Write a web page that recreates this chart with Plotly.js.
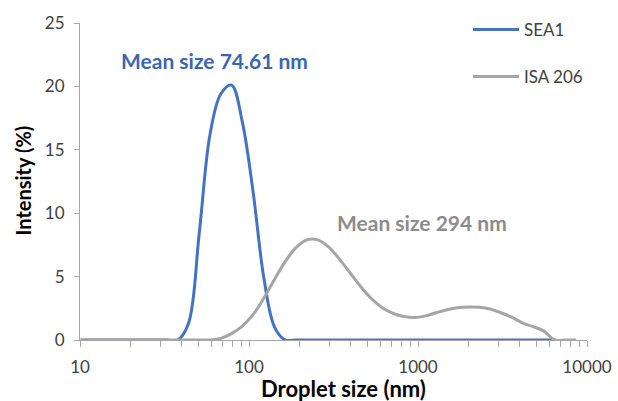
<!DOCTYPE html>
<html>
<head>
<meta charset="utf-8">
<script src="https://cdn.plot.ly/plotly-3.0.1.min.js"></script>
<style>
html,body{margin:0;padding:0;background:#fff;}
#chart{width:618px;height:401px;}
</style>
</head>
<body>
<div id="chart"></div>
<script>
// Droplet size bins (nm)
const sizesSEA1 = [10.1, 11.7, 13.54, 15.69, 18.17, 21.04, 24.36, 28.21, 32.67, 37.84,
  43.82, 50.75, 58.77, 68.06, 78.82, 91.28, 105.7, 122.4, 141.8, 164.2,
  190.1, 220.2, 255.0, 295.3, 342.0, 396.1, 458.7, 531.2, 615.1, 712.4,
  825.0, 955.4, 1106, 1281, 1484, 1718, 1990, 2305, 2669, 3091,
  3580, 4145, 4801, 5560, 6439];
const intensitySEA1 = [0, 0, 0, 0, 0, 0, 0, 0, 0, 0,
  1.3, 8.4, 16.2, 19.4, 20.1, 17.2, 11.7, 4.9, 1.0, 0,
  0, 0, 0, 0, 0, 0, 0, 0, 0, 0,
  0, 0, 0, 0, 0, 0, 0, 0, 0, 0,
  0, 0, 0, 0, 0];

const sizesISA = [10.1, 11.7, 13.54, 15.69, 18.17, 21.04, 24.36, 28.21, 32.67, 37.84,
  43.82, 50.75, 58.77, 68.06, 78.82, 91.28, 105.7, 122.4, 141.8, 164.2,
  190.1, 220.2, 255.0, 295.3, 342.0, 396.1, 458.7, 531.2, 615.1, 712.4,
  825.0, 955.4, 1106, 1281, 1484, 1718, 1990, 2305, 2669, 3091,
  3580, 4145, 4801, 5560, 6439, 7456, 8635];
const intensityISA = [0, 0, 0, 0, 0, 0, 0, 0, 0, 0,
  0, 0, 0, 0.13, 0.5, 1.1, 2.0, 3.3, 4.8, 6.2,
  7.3, 7.9, 7.9, 7.35, 6.4, 5.3, 4.2, 3.25, 2.55, 2.1,
  1.85, 1.77, 1.9, 2.15, 2.38, 2.55, 2.6, 2.58, 2.45, 2.15,
  1.8, 1.35, 1.05, 0.7, 0, 0, 0];

const seriesNames = ['SEA1', 'ISA 206'];
const decadeTicks = [10, 100, 1000, 10000];
const decadeLabels = ['10', '100', '1000', '10000'];
const annotationTexts = ['Mean size 74.61 nm', 'Mean size 294 nm'];
const xTitle = 'Droplet size (nm)';
const yTitle = 'Intensity (%)';

// tick positions: each decade plus its 2..9 multiples (labels only on decades)
const xTickVals = [];
const xTickText = [];
decadeTicks.forEach(function (d, i) {
  xTickVals.push(d); xTickText.push(decadeLabels[i]);
  if (i < decadeTicks.length - 1) {
    for (let m = 2; m <= 9; m++) { xTickVals.push(d * m); xTickText.push(''); }
  }
});

const FONT = 'Lato, "Open Sans", sans-serif';

const traces = [
  {x: sizesSEA1, y: intensitySEA1, name: seriesNames[0], type: 'scatter', mode: 'lines',
   line: {color: '#4472C4', width: 3, shape: 'spline', smoothing: 1}, legendgroup: 'a'},
  {x: sizesISA, y: intensityISA, name: seriesNames[1], type: 'scatter', mode: 'lines',
   line: {color: '#A5A5A5', width: 3, shape: 'spline', smoothing: 1}, legendgroup: 'b'}
];

function px(x) { return (x - 80) / 507; }
function py(y) { return (340 - y) / 320; }

const layout = {
  width: 618, height: 401,
  margin: {l: 80, r: 31, t: 20, b: 61},
  paper_bgcolor: '#fff', plot_bgcolor: '#fff',
  font: {family: FONT, color: '#404040', size: 16},
  showlegend: true,
  legend: {x: px(468), xref: 'paper', y: 1.035, yanchor: 'top',
           font: {family: FONT, size: 17, color: '#404040'},
           tracegroupgap: 22, itemwidth: 46, bgcolor: 'rgba(0,0,0,0)'},
  xaxis: {
    type: 'log', range: [1, 4], showgrid: false, zeroline: false,
    showline: true, linecolor: '#a6a6a6', linewidth: 1,
    tickmode: 'array', tickvals: xTickVals, ticktext: xTickText,
    ticks: 'outside', ticklen: 6, tickcolor: '#a6a6a6', ticklabelstandoff: 6,
    tickfont: {family: FONT, size: 17, color: '#404040'}
  },
  yaxis: {
    range: [0, 25], dtick: 5, showgrid: false, zeroline: false,
    showline: true, linecolor: '#a6a6a6', linewidth: 1,
    ticks: 'outside', ticklen: 5, tickcolor: '#a6a6a6', ticklabelstandoff: 6,
    tickfont: {family: FONT, size: 17, color: '#404040'}
  },
  annotations: [
    {text: annotationTexts[0], xref: 'paper', yref: 'paper', xanchor: 'center', yanchor: 'middle',
     x: px(214), y: py(58),
     showarrow: false, font: {family: FONT, size: 21, color: '#3A66B0', weight: 'bold'}},
    {text: annotationTexts[1], xref: 'paper', yref: 'paper', xanchor: 'center', yanchor: 'middle',
     x: px(422), y: py(221),
     showarrow: false, font: {family: FONT, size: 21, color: '#8C8C8C', weight: 'bold'}},
    {text: xTitle, xref: 'paper', yref: 'paper', xanchor: 'center', yanchor: 'middle',
     x: px(343), y: py(389),
     showarrow: false, font: {family: FONT, size: 22, color: '#000', weight: 'bold'}},
    {text: yTitle, xref: 'paper', yref: 'paper', xanchor: 'center', yanchor: 'middle',
     x: px(23), y: py(179), textangle: -90,
     showarrow: false, font: {family: FONT, size: 20, color: '#000', weight: 'bold'}}
  ]
};

Plotly.newPlot('chart', traces, layout, {displayModeBar: false, staticPlot: true});
</script>
</body>
</html>
